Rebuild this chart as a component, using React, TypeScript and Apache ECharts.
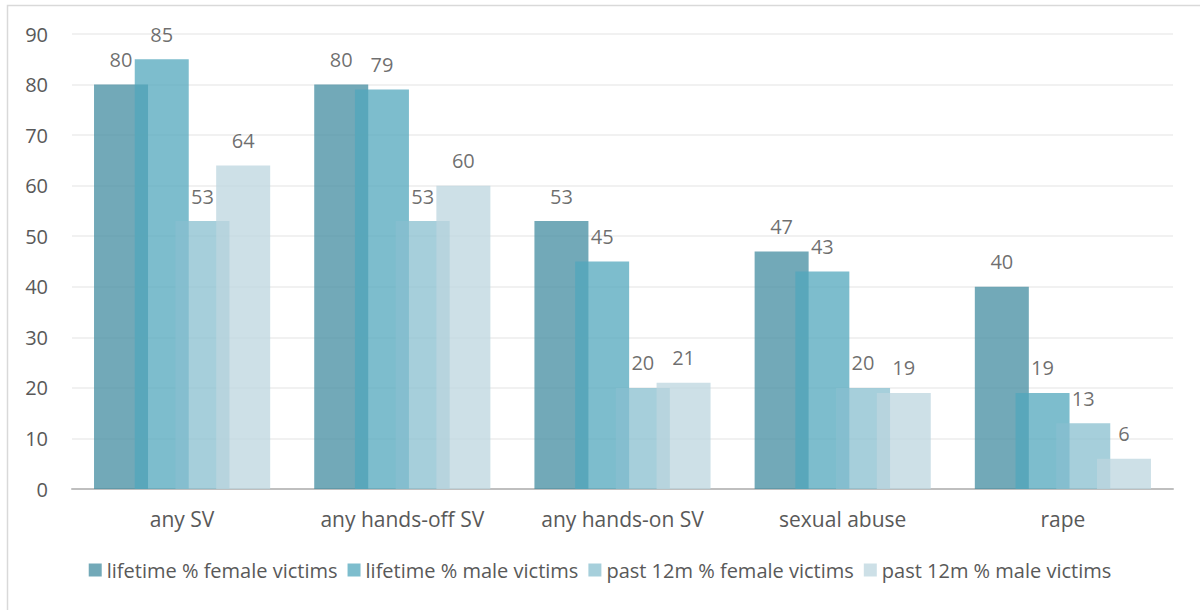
import React, { useEffect, useRef } from "react";
import * as echarts from "echarts";

const categories = ["any SV", "any hands-off SV", "any hands-on SV", "sexual abuse", "rape"];
const seriesNames = [
  "lifetime % female victims",
  "lifetime % male victims",
  "past 12m % female victims",
  "past 12m % male victims",
];
const lifetimeFemale = [80, 80, 53, 47, 40];
const lifetimeMale = [85, 79, 45, 43, 19];
const pastFemale = [53, 53, 20, 20, 13];
const pastMale = [64, 60, 21, 19, 6];
const yTicks = { min: 0, max: 90, interval: 10 };

const colors = ["#438ca0", "#51a7bc", "#88bfcf", "#bcd5df"];
const FONT = "'Open Sans', sans-serif";

export default function App() {
  const ref = useRef<HTMLDivElement>(null);
  useEffect(() => {
    if (!ref.current) return;
    const chart = echarts.init(ref.current, null, { renderer: "svg" });
    const allData = [lifetimeFemale, lifetimeMale, pastFemale, pastMale];
    chart.setOption({
      animation: false,
      backgroundColor: "#ffffff",
      textStyle: { fontFamily: FONT },
      graphic: [
        {
          type: "rect",
          shape: { x: 7.5, y: 5.5, width: 1400, height: 800 },
          style: { fill: "none", stroke: "#d9d9d9", lineWidth: 1.5 },
          silent: true,
          z: -10,
        },
      ],
      grid: { left: 72, right: 27, top: 34, bottom: 121, containLabel: false },
      legend: {
        data: seriesNames,
        bottom: 25,
        left: "center",
        itemWidth: 13,
        itemHeight: 13,
        itemGap: 10,
        icon: "rect",
        textStyle: { fontSize: 20, color: "#595959", fontFamily: FONT },
      },
      xAxis: {
        type: "category",
        data: categories,
        axisTick: { show: false },
        axisLine: { lineStyle: { color: "#bfbfbf", width: 2 } },
        axisLabel: { interval: 0, fontSize: 21, color: "#595959", margin: 19, fontFamily: FONT },
      },
      yAxis: {
        type: "value",
        min: yTicks.min,
        max: yTicks.max,
        interval: yTicks.interval,
        axisLine: { show: false },
        axisTick: { show: false },
        axisLabel: { fontSize: 20, color: "#595959", margin: 24, fontFamily: FONT },
        splitLine: { lineStyle: { color: "#ececec", width: 1.5 } },
      },
      series: allData.map((d, i) => ({
        name: seriesNames[i],
        type: "bar",
        data: d,
        barWidth: 54,
        barGap: "-24.6%",
        itemStyle: { color: colors[i], opacity: 0.75 },
        label: {
          show: true,
          position: "top",
          distance: 15,
          fontSize: 20,
          color: "#404040",
          fontFamily: FONT,
        },
      })),
    });
    return () => chart.dispose();
  }, []);
  return (
    <div
      ref={ref}
      style={{ position: "fixed", left: 0, top: 0, width: 1200, height: 610 }}
    />
  );
}
